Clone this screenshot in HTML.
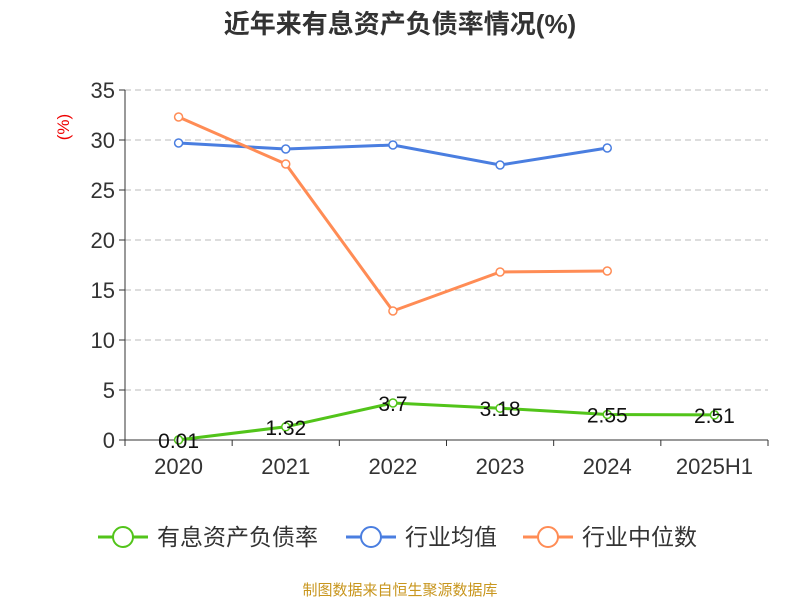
<!DOCTYPE html>
<html><head><meta charset="utf-8"><style>
body{margin:0;background:#fff;font-family:"Liberation Sans","Noto Sans CJK SC",sans-serif}
</style></head><body>
<svg width="800" height="600" font-family="Liberation Sans, Noto Sans CJK SC, sans-serif">
<text x="400" y="33" text-anchor="middle" font-size="26" font-weight="bold" fill="#333">近年来有息资产负债率情况(%)</text>
<text x="69" y="127" font-size="17" fill="#e00" transform="rotate(-90 69 127)" text-anchor="middle">(%)</text>
<g id="grid"></g>
<g id="axes"></g>
<g id="series"></g>
<g font-size="23" fill="#333">
<g><line x1="98" y1="537" x2="148" y2="537" stroke="#52c41a" stroke-width="3"/><circle cx="123" cy="537" r="10" fill="#fff" stroke="#52c41a" stroke-width="2"/><text x="157" y="545">有息资产负债率</text></g>
<g><line x1="346" y1="537" x2="396" y2="537" stroke="#4a7ee0" stroke-width="3"/><circle cx="371" cy="537" r="10" fill="#fff" stroke="#4a7ee0" stroke-width="2"/><text x="405" y="545">行业均值</text></g>
<g><line x1="523" y1="537" x2="573" y2="537" stroke="#ff8c55" stroke-width="3"/><circle cx="548" cy="537" r="10" fill="#fff" stroke="#ff8c55" stroke-width="2"/><text x="582" y="545">行业中位数</text></g>
</g>
<text x="400" y="595" text-anchor="middle" font-size="15" fill="#c8961e">制图数据来自恒生聚源数据库</text>
</svg>
<script>
const categories=["2020","2021","2022","2023","2024","2025H1"];
const debtRatio=[0.01,1.32,3.7,3.18,2.55,2.51];
const industryAvg=[29.7,29.1,29.5,27.5,29.2];
const industryMedian=[32.3,27.6,12.9,16.8,16.9];
const yTicks=[0,5,10,15,20,25,30,35];
const NS="http://www.w3.org/2000/svg";
const x0=125,x1=768,y0=440,yMax=35,yTop=90;
const bw=(x1-x0)/categories.length;
const xs=i=>x0+bw*(i+0.5);
const ys=v=>y0-(v/yMax)*(y0-yTop);
function mk(t,a,p){const e=document.createElementNS(NS,t);for(const k in a)e.setAttribute(k,a[k]);p.appendChild(e);return e;}
const grid=document.getElementById('grid'),axes=document.getElementById('axes'),ser=document.getElementById('series');
yTicks.forEach(v=>{
 if(v>0){const l=mk('line',{x1:x0,x2:x1,y1:ys(v),y2:ys(v),stroke:'#bbb','stroke-dasharray':'6,4'},grid);
 
 }
 const tk=mk('line',{x1:x0-6,x2:x0,y1:ys(v),y2:ys(v),stroke:'#333'},axes);
 
 
 const t=mk('text',{x:x0-10,y:ys(v)+8,'text-anchor':'end','font-size':22,fill:'#333'},axes);t.textContent=v;
 
 
});
const ya=mk('line',{x1:x0,x2:x0,y1:yTop,y2:y0,stroke:'#333'},axes);


const xa=mk('line',{x1:x0,x2:x1,y1:y0,y2:y0,stroke:'#333'},axes);


for(let i=0;i<=categories.length;i++){const tk=mk('line',{x1:x0+bw*i,x2:x0+bw*i,y1:y0,y2:y0+6,stroke:'#333'},axes);
 
 }
categories.forEach((c,i)=>{const t=mk('text',{x:xs(i),y:y0+34,'text-anchor':'middle','font-size':22,fill:'#333'},axes);t.textContent=c;
 
 });
function line(data,color,name,labels){
 const g=mk('g',{},ser);
 
 
 const pts=data.map((v,i)=>xs(i)+','+ys(v)).join(' ');
 mk('polyline',{points:pts,fill:'none',stroke:color,'stroke-width':3},g);
 data.forEach((v,i)=>{const c=mk('circle',{cx:xs(i),cy:ys(v),r:4,fill:'#fff',stroke:color,'stroke-width':1.5},g);
  
  
  if(labels){const t=mk('text',{x:xs(i),y:ys(v)+8,'text-anchor':'middle','font-size':21,fill:'#111'},g);t.textContent=v;
   
   }
 });
}
line(industryAvg,'#4a7ee0','industry-avg-line',false);
line(industryMedian,'#ff8c55','industry-median-line',false);
line(debtRatio,'#52c41a','debt-ratio-line',true);
</script>
</body></html>
